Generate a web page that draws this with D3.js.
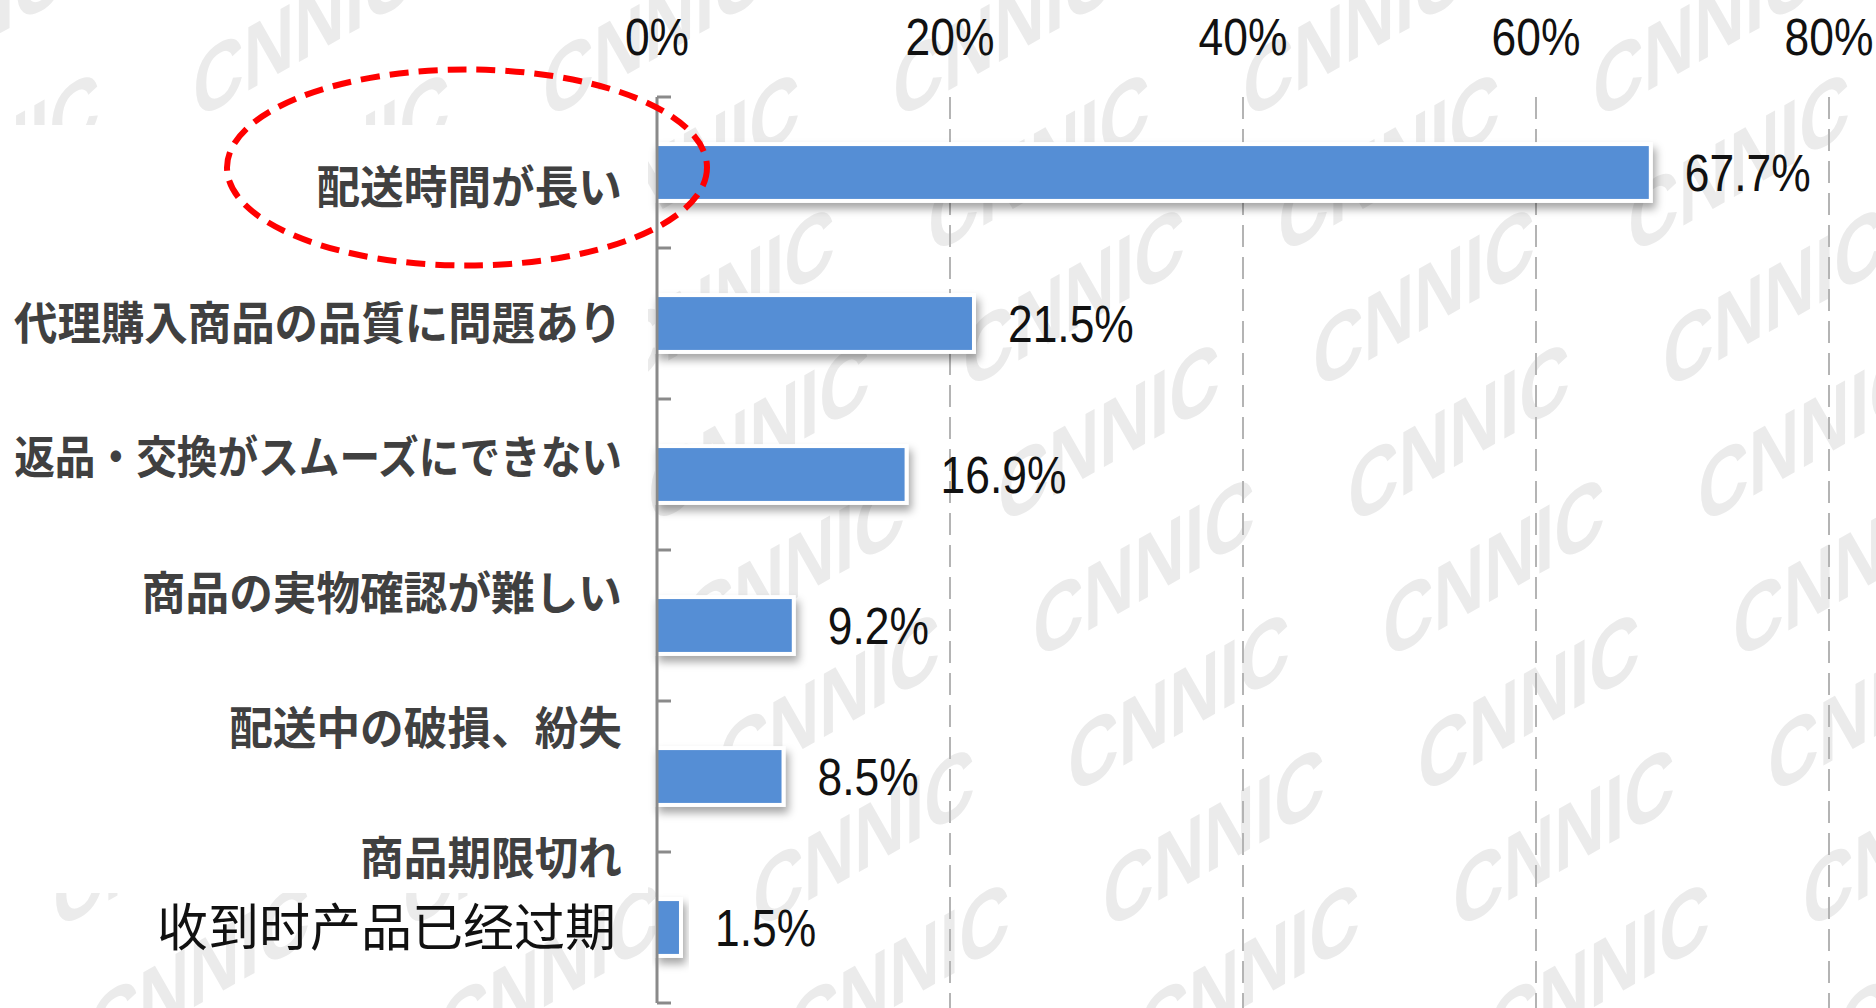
<!DOCTYPE html>
<html>
<head>
<meta charset="utf-8">
<script src="https://cdn.jsdelivr.net/npm/d3@7"></script>
<style>
  html, body { margin: 0; padding: 0; background: #fff; overflow: hidden; }
  svg { display: block; }
</style>
</head>
<body>
<div id="chart"></div>
<script>
// categories (Japanese labels pasted over the chart) and shares in %
const categories = [
  "配送時間が長い",
  "代理購入商品の品質に問題あり",
  "返品・交換がスムーズにできない",
  "商品の実物確認が難しい",
  "配送中の破損、紛失",
  "商品期限切れ"
];
const shares = [67.7, 21.5, 16.9, 9.2, 8.5, 1.5];
const xTicks = [0, 20, 40, 60, 80];
// original Chinese axis label still visible under the last item
const originalLabel = "收到时产品已经过期";

const width = 1876;
const height = 1008;

// the pasted labels drift upward from the bar centres
const labelNudge = [15, 0, -17, -32, -48, -69];
const labelRight = 622;
const labelMaxW = 608;

const numFont = "'Liberation Sans', Arial, sans-serif";
const jaFont = "'Noto Sans CJK JP', sans-serif";
const zhFont = "'Noto Sans CJK SC', sans-serif";

const svg = d3.select("#chart").append("svg")
  .attr("width", width)
  .attr("height", height);

const defs = svg.append("defs");
const shadow = defs.append("filter")
  .attr("id", "barShadow")
  .attr("x", "-10%").attr("y", "-40%")
  .attr("width", "130%").attr("height", "200%");
shadow.append("feDropShadow")
  .attr("dx", 3).attr("dy", 6)
  .attr("stdDeviation", 4)
  .attr("flood-color", "#000")
  .attr("flood-opacity", 0.35);

const x = d3.scaleLinear().domain([0, 80]).range([657, 1829]);
const y = d3.scaleBand()
  .domain(categories)
  .range([97, 1003])
  .paddingInner(0.65)
  .paddingOuter(0.325);

// watermark, lattice (350,0) and (35,135)
const wm = svg.append("g").attr("fill", "#ebebeb");
for (let j = -3; j < 9; j++) {
  for (let i = -5; i < 6; i++) {
    const cx = 1424 + i * 350 + j * 35;
    const cy = 297 + j * 135;
    if (cx < -200 || cx > width + 200) continue;
    wm.append("text")
      .attr("transform", `translate(${cx},${cy}) skewY(-29.5) scale(0.76,1)`)
      .attr("text-anchor", "middle")
      .attr("dy", "0.35em")
      .style("font-family", numFont)
      .style("font-weight", 700)
      .style("font-size", "92px")
      .text("CNNIC");
  }
}

// white box under the pasted labels
svg.append("rect")
  .attr("x", 0).attr("y", 125)
  .attr("width", 648).attr("height", 768)
  .attr("fill", "#fff");

// gridlines
svg.append("g")
  .selectAll("line")
  .data(xTicks.filter(d => d > 0))
  .join("line")
  .attr("x1", d => x(d)).attr("x2", d => x(d))
  .attr("y1", y.range()[0]).attr("y2", height)
  .attr("stroke", "#b4b4b4")
  .attr("stroke-width", 2)
  .attr("stroke-dasharray", "22,10");

// top tick labels
svg.append("g")
  .selectAll("text")
  .data(xTicks)
  .join("text")
  .attr("transform", d => `translate(${x(d)},55) scale(0.87,1)`)
  .attr("text-anchor", "middle")
  .attr("fill", "#111")
  .style("font-family", numFont)
  .style("font-size", "51px")
  .text(d => d + "%");

// bars: white frame with shadow, then blue fill
const bars = svg.append("g")
  .selectAll("g")
  .data(categories)
  .join("g");

bars.append("rect")
  .attr("x", x(0) - 2)
  .attr("y", d => y(d) - 4)
  .attr("width", (d, i) => x(shares[i]) - x(0) + 6)
  .attr("height", y.bandwidth() + 8)
  .attr("fill", "#fff")
  .attr("filter", "url(#barShadow)");

bars.append("rect")
  .attr("x", x(0))
  .attr("y", d => y(d))
  .attr("width", (d, i) => x(shares[i]) - x(0))
  .attr("height", y.bandwidth())
  .attr("fill", "#558ed5");

// value labels
bars.append("text")
  .attr("transform", (d, i) =>
    `translate(${x(shares[i]) + 36},${y(d) + y.bandwidth() / 2}) scale(0.87,1)`)
  .attr("dy", "0.36em")
  .attr("fill", "#111")
  .style("font-family", numFont)
  .style("font-size", "51px")
  .text((d, i) => d3.format(".1f")(shares[i]) + "%");

// category axis with ticks between categories
const axis = svg.append("g")
  .attr("stroke", "#8a8a8a")
  .attr("stroke-width", 3);
axis.append("line")
  .attr("x1", x(0)).attr("x2", x(0))
  .attr("y1", y.range()[0]).attr("y2", y.range()[1]);
axis.selectAll("line.tick")
  .data(d3.range(categories.length + 1))
  .join("line")
  .attr("class", "tick")
  .attr("x1", x(0)).attr("x2", x(0) + 14)
  .attr("y1", i => y.range()[0] + i * y.step())
  .attr("y2", i => y.range()[0] + i * y.step());

// pasted Japanese labels, squeezed when wider than the margin
svg.append("g")
  .selectAll("text")
  .data(categories)
  .join("text")
  .attr("text-anchor", "end")
  .attr("dy", "0.36em")
  .attr("fill", "#404040")
  .style("font-family", jaFont)
  .style("font-weight", 700)
  .style("font-size", "45px")
  .text(d => d)
  .each(function (d, i) {
    const w = this.getComputedTextLength();
    const sx = Math.min(0.97, labelMaxW / w);
    d3.select(this).attr("transform",
      `translate(${labelRight},${y(d) + y.bandwidth() / 2 + labelNudge[i]}) scale(${sx},1)`);
  });

// original Chinese label of the last category
const last = categories[categories.length - 1];
svg.append("text")
  .attr("transform", `translate(616,${y(last) + y.bandwidth() / 2})`)
  .attr("text-anchor", "end")
  .attr("dy", "0.36em")
  .attr("fill", "#111")
  .style("font-family", zhFont)
  .style("font-size", "51px")
  .text(originalLabel);

// red dashed highlight around the first item
svg.append("ellipse")
  .attr("cx", 467)
  .attr("cy", y(categories[0]) + y.bandwidth() / 2 - 5)
  .attr("rx", 240)
  .attr("ry", 98)
  .attr("fill", "none")
  .attr("stroke", "#f00")
  .attr("stroke-width", 6)
  .attr("stroke-dasharray", "19,10");
</script>
</body>
</html>
